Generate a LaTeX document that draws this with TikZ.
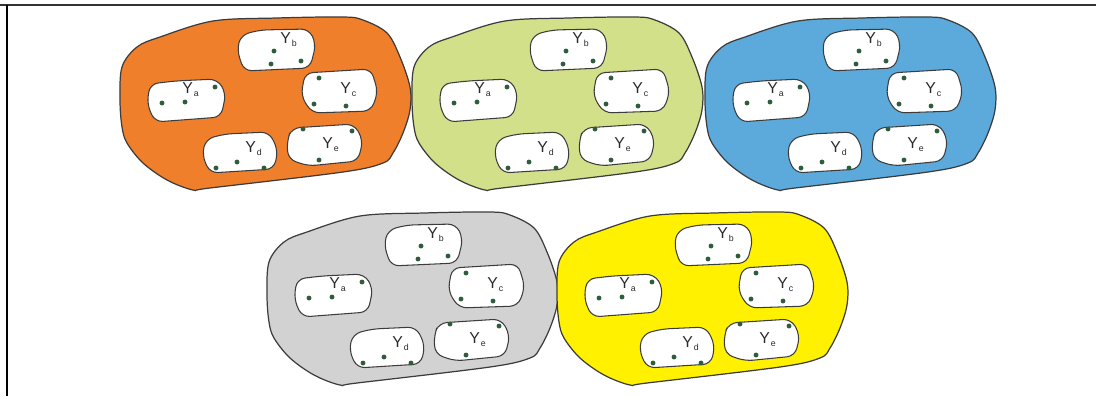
\documentclass[tikz,border=0pt]{standalone}
\usepackage{fontspec}
\setmainfont{Liberation Sans}
\definecolor{corange}{HTML}{F07F2B}
\definecolor{cgreen}{HTML}{D3E08A}
\definecolor{cblue}{HTML}{5BAADB}
\definecolor{cgrey}{HTML}{D2D2D2}
\definecolor{cyellow}{HTML}{FFF100}
\definecolor{seedgreen}{HTML}{2E5D3C}
\definecolor{outl}{HTML}{3C3C3C}
\definecolor{labgray}{HTML}{2A2A2A}
\newcommand{\ysub}[1]{Y\kern0.6pt\raisebox{-0.45ex}{\fontsize{5}{5}\selectfont #1}}

\begin{document}
\begin{tikzpicture}[x=0.02cm,y=-0.02cm,
    blob/.style={draw=outl,line width=0.7pt},
    cell/.style={draw=outl,fill=white,line width=0.6pt,rounded corners=4.5pt},
    seed/.style={fill=seedgreen},
    lab/.style={font=\fontsize{9}{10}\selectfont,text=labgray,inner sep=0pt,anchor=base west},
    pics/cluster/.style={code={
      \path[blob,fill=#1] plot[smooth cycle,tension=0.55] coordinates {
        (120,100) (122,67) (137,47) (160,37) (213,21) (277,18) (343,17) (363,20)
        (387,33) (400,57) (410,87) (410,110) (403,133) (393,153) (383,163)
        (343,172) (210,188) (193,190) (167,180) (143,163) (127,143) (122,127)};
      % cells
      \draw[cell] (150,84) -- (175,81) -- (217,79) -- (226,93) -- (221,117) -- (155,122) -- (147,104) -- cycle;
      \draw[cell] (241,35) -- (260,30) -- (309,29) -- (316,44) -- (310,68) -- (244,71) -- (237,50) -- cycle;
      \draw[cell] (305,73) -- (371,69) -- (378,92) -- (371,111) -- (312,113) -- (301,96) -- cycle;
      \draw[cell] (206,139) -- (225,134) -- (269,132) -- (278,150) -- (274,169) -- (210,173) -- (202,155) -- cycle;
      \draw[cell] (292,128) -- (354,124) -- (363,140) -- (358,161) -- (308,166) -- (288,159) -- (287,140) -- cycle;
      % labels
      \node[lab] (-ya) at (182,93) {\ysub{a}};
      \node[lab] (-yb) at (280,43) {\ysub{b}};
      \node[lab] (-yc) at (340,93) {\ysub{c}};
      \node[lab] (-yd) at (245,152) {\ysub{d}};
      \node[lab] (-ye) at (322,148) {\ysub{e}};
      % seeds
      \foreach \p in {(162,103),(185,102),(215,87),(274,51),(271,64),(301,61),
                      (319,78),(314,104),(346,106),(216,168),(237,162),(264,168),
                      (303,129),(352,131),(319,160)}
        \fill[seed] \p circle (1.4pt);
    }}]
  \useasboundingbox (0,0) rectangle (1096,396);
  \draw[line width=1.1pt,black!80] (0,5) -- (1096,5);
  \draw[line width=1.2pt] (7,5) -- (7,396);

  \pic (or) at (0,0) {cluster=corange};
  \pic (gn) at (292,0) {cluster=cgreen};
  \pic (bl) at (585,0) {cluster=cblue};
  \pic (gy) at (147,195) {cluster=cgrey};
  \pic (ye) at (437,195) {cluster=cyellow};
\end{tikzpicture}
\end{document}
